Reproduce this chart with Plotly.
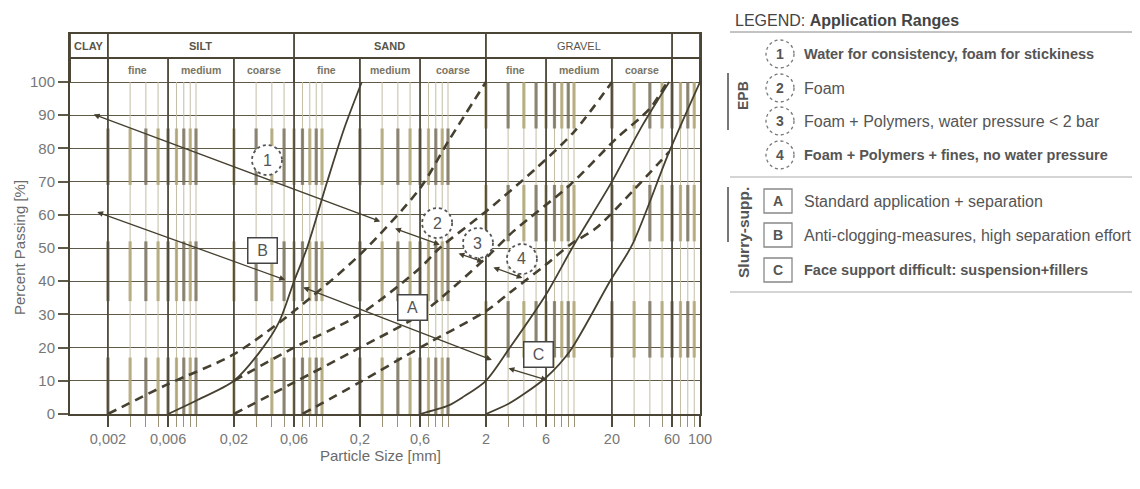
import math
import plotly.graph_objects as go

# ---------------- data ----------------
x_tickvals = [0.002, 0.006, 0.02, 0.06, 0.2, 0.6, 2, 6, 20, 60, 100]
x_ticktext = ["0,002", "0,006", "0,02", "0,06", "0,2", "0,6", "2", "6", "20", "60", "100"]
y_tickvals = [0, 10, 20, 30, 40, 50, 60, 70, 80, 90, 100]

main_band_names = ["CLAY", "SILT", "SAND", "GRAVEL", ""]
main_band_edges = [0.001, 0.002, 0.06, 2, 60, 100]
sub_band_names = ["", "fine", "medium", "coarse", "fine", "medium", "coarse",
                  "fine", "medium", "coarse", ""]
sub_band_edges = [0.001, 0.002, 0.006, 0.02, 0.06, 0.2, 0.6, 2, 6, 20, 60, 100]

major_lines = [0.002, 0.006, 0.02, 0.06, 0.2, 0.6, 2, 6, 20, 60]
sieve_lines = [0.003, 0.004, 0.005, 0.007, 0.008, 0.009, 0.01,
               0.03, 0.04, 0.05, 0.07, 0.08, 0.09, 0.1,
               0.3, 0.4, 0.5, 0.7, 0.8, 0.9, 1,
               3, 4, 5, 7, 8, 9, 10,
               30, 40, 50, 70, 80, 90]
band_ranges_fine = [[0, 17], [34, 52], [69, 86]]
band_ranges_coarse = [[17, 34], [52, 69], [86, 100]]

# solid grading curves
s1_x = [0.006, 0.01, 0.02, 0.034, 0.046, 0.06, 0.076, 0.11, 0.15, 0.207]
s1_y = [0, 4, 10, 20, 28, 40, 50, 70, 86, 100]
s2_x = [0.6, 1, 1.3, 2, 3.1, 6, 10, 20, 35, 57]
s2_y = [0, 2.5, 5, 10, 20, 36, 51, 70, 87, 100]
s3_x = [2, 3, 4, 6, 9.3, 19.3, 29, 57, 100]
s3_y = [0, 3, 6, 11, 19, 40, 51, 79, 100]

# dashed boundary curves
d1_x = [0.002, 0.006, 0.02, 0.06, 0.2, 0.6, 1, 2]
d1_y = [0, 9, 18, 31, 48, 68, 82, 100]
d2_x = [0.02, 0.06, 0.2, 0.6, 0.86, 2, 5, 10, 20]
d2_y = [10, 20, 30, 44, 50, 61, 74, 85, 100]
d3_x = [0.02, 0.06, 0.2, 0.6, 2, 3.3, 9.3, 21.7, 40, 55]
d3_y = [0, 9.5, 20, 30, 47, 55, 69, 83, 92, 100]
d4_x = [0.07, 0.2, 0.6, 2, 3.2, 6, 9.3, 15, 29, 57]
d4_y = [0, 9.6, 20, 31, 37, 45, 51, 56, 67, 79]

# range arrows: (x_start, y_start, x_end, y_end)
arrow_segments = [
    (0.0015, 90.4, 0.29, 58),
    (0.37, 56, 0.86, 51),
    (1.18, 48.5, 1.9, 45.8),
    (2.23, 44.3, 3.9, 41),
    (0.0016, 61, 0.051, 40.4),
    (0.069, 38.3, 2.23, 16.3),
    (2.94, 13.9, 6.1, 10.2),
]

zone_labels = ["1", "2", "3", "4"]
zone_x = [0.0366, 0.82, 1.73, 3.86]
zone_y = [76.5, 57.5, 51.5, 46.7]

box_labels = ["B", "A", "C"]
box_x = [0.034, 0.527, 5.18]
box_y = [49.4, 32.2, 17.8]

legend_title = "LEGEND: <b>Application Ranges</b>"
epb_labels = ["1", "2", "3", "4"]
epb_texts = ["<b>Water for consistency, foam for stickiness</b>",
             "Foam",
             "Foam + Polymers, water pressure < 2 bar",
             "<b>Foam + Polymers + fines, no water pressure</b>"]
slurry_labels = ["A", "B", "C"]
slurry_texts = ["Standard application + separation",
                "Anti-clogging-measures, high separation effort",
                "<b>Face support difficult: suspension+fillers</b>"]

# ---------------- layout helpers ----------------
# the page body adds an 8px offset; the figure is sized so the plot area lands
# at screen x 70..700, y 34..414
OFF = 8
W, H = 1140 - OFF, 489 - OFF
PL, PT, PW, PH = 70, 34, 630, 380          # plot area in screen pixels
L, T = PL - OFF, PT - OFF
R, B = W - L - PW, H - T - PH
Y_TOP = 114.46
Y_MID = 107.23
PX_PER_DEC = PW / 5.0
PX_PER_PCT = PH / Y_TOP
FONT = "Liberation Sans, Arial, sans-serif"
INK = "#45402f"


def px(xs):
    return (xs - PL) / PW


def py(ys):
    return (PT + PH - ys) / PH


def lg(v):
    return math.log10(v)


fig = go.Figure()


def vseg_trace(xs, ranges_for, color, width):
    xx, yy = [], []
    for xv in xs:
        for lo, hi in ranges_for(xv):
            xx += [xv, xv, None]
            yy += [lo, hi, None]
    fig.add_trace(go.Scatter(x=xx, y=yy, mode="lines",
                             line=dict(color=color, width=width),
                             hoverinfo="skip", showlegend=False))


all_vlines = sorted(sieve_lines + major_lines)
vseg_trace(sieve_lines, lambda v: [(0, 100)], "#c4bea4", 1)


def bands(v):
    return band_ranges_fine if v < 1.99 else band_ranges_coarse


dark_set = [v for i, v in enumerate(all_vlines) if i % 2 == 0]
olive_set = [v for i, v in enumerate(all_vlines) if i % 2 == 1]
vseg_trace(olive_set, bands, "rgba(170,158,105,0.75)", 3.2)
vseg_trace(dark_set, bands, "rgba(110,102,80,0.75)", 3.2)
vseg_trace(major_lines, lambda v: [(0, 100)], "#4f4a3a", 1.8)

# header grid
hx, hy = [], []
for e in main_band_edges:
    hx += [e, e, None]
    hy += [100, Y_TOP, None]
for e in sub_band_edges:
    hx += [e, e, None]
    hy += [100, Y_MID, None]
hx += [main_band_edges[0], main_band_edges[-1], None]
hy += [Y_MID, Y_MID, None]
fig.add_trace(go.Scatter(x=hx, y=hy, mode="lines",
                         line=dict(color="#4a4535", width=1.8),
                         hoverinfo="skip", showlegend=False))

for i, name in enumerate(main_band_names):
    if not name:
        continue
    xc = math.sqrt(main_band_edges[i] * main_band_edges[i + 1])
    bold = name != "GRAVEL"
    fig.add_annotation(x=lg(xc), y=(Y_MID + Y_TOP) / 2, xref="x", yref="y",
                       text=f"<b>{name}</b>" if bold else name, showarrow=False,
                       xanchor="center", yanchor="middle",
                       font=dict(family=FONT, size=11, color="#5a5548"))
for i, name in enumerate(sub_band_names):
    if not name:
        continue
    xc = math.sqrt(sub_band_edges[i] * sub_band_edges[i + 1])
    fig.add_annotation(x=lg(xc), y=(100 + Y_MID) / 2, xref="x", yref="y",
                       text=f"<b>{name}</b>", showarrow=False,
                       xanchor="center", yanchor="middle",
                       font=dict(family=FONT, size=10.5, color="#7a7563"))

# curves
for cx, cy in [(s1_x, s1_y), (s2_x, s2_y), (s3_x, s3_y)]:
    fig.add_trace(go.Scatter(x=cx, y=cy, mode="lines",
                             line=dict(color=INK, width=1.8, shape="spline", smoothing=0.8),
                             hoverinfo="skip", showlegend=False))
for cx, cy in [(d1_x, d1_y), (d2_x, d2_y), (d3_x, d3_y), (d4_x, d4_y)]:
    fig.add_trace(go.Scatter(x=cx, y=cy, mode="lines",
                             line=dict(color=INK, width=2.6, dash="9px,6px",
                                       shape="spline", smoothing=0.8),
                             hoverinfo="skip", showlegend=False))

# arrows
for x0, y0, x1, y1 in arrow_segments:
    fig.add_annotation(x=lg(x1), y=y1, ax=lg(x0), ay=y0, xref="x", yref="y",
                       axref="x", ayref="y", text="", showarrow=True,
                       arrowhead=2, arrowsize=0.9, arrowwidth=1.3,
                       arrowside="end+start", arrowcolor=INK,
                       standoff=0, startstandoff=0)

# zone circles (radius 15 px expressed in axis units)
RC = 15
fx = 10 ** (RC / PX_PER_DEC)
dy = RC / PX_PER_PCT
for lab, xv, yv in zip(zone_labels, zone_x, zone_y):
    fig.add_shape(type="circle", xref="x", yref="y",
                  x0=xv / fx, x1=xv * fx, y0=yv - dy, y1=yv + dy,
                  line=dict(color="#555", width=1.8, dash="dot"),
                  fillcolor="white", layer="above")
    fig.add_annotation(x=lg(xv), y=yv, xref="x", yref="y", text=lab,
                       showarrow=False, xanchor="center", yanchor="middle",
                       font=dict(family=FONT, size=16, color="#555"))

# boxes
for lab, xv, yv in zip(box_labels, box_x, box_y):
    fig.add_annotation(x=lg(xv), y=yv, xref="x", yref="y", text=lab,
                       showarrow=False, width=26, height=22, borderpad=1,
                       xanchor="center", yanchor="middle",
                       bordercolor="#444", borderwidth=1.5, bgcolor="white",
                       font=dict(family=FONT, size=16, color="#555"))

# axis titles
fig.add_annotation(x=px(380), y=py(455), xref="paper", yref="paper",
                   text="Particle Size [mm]", showarrow=False,
                   xanchor="center", yanchor="middle",
                   font=dict(family=FONT, size=15, color="#6a6a6a"))
fig.add_annotation(x=px(19), y=py(248), xref="paper", yref="paper",
                   text="Percent Passing [%]", showarrow=False, textangle=-90,
                   xanchor="center", yanchor="middle",
                   font=dict(family=FONT, size=15, color="#6a6a6a"))

# ---------------- legend block ----------------
fig.add_annotation(x=px(733), y=py(20), xref="paper", yref="paper",
                   text=legend_title, showarrow=False, xanchor="left", yanchor="middle",
                   font=dict(family=FONT, size=16, color="#444"))
for yl, col in [(32, "#888"), (177, "#aaa"), (292, "#aaa")]:
    fig.add_shape(type="line", xref="paper", yref="paper",
                  x0=px(730), x1=px(1140), y0=py(yl), y1=py(yl),
                  line=dict(color=col, width=1))
for y0, y1 in [(73, 130), (187, 242)]:
    fig.add_shape(type="line", xref="paper", yref="paper",
                  x0=px(728), x1=px(728), y0=py(y0), y1=py(y1),
                  line=dict(color="#777", width=2))
fig.add_annotation(x=px(743), y=py(96), xref="paper", yref="paper",
                   text="<b>EPB</b>", showarrow=False, textangle=-90,
                   xanchor="center", yanchor="middle",
                   font=dict(family=FONT, size=14, color="#555"))
fig.add_annotation(x=px(743), y=py(233), xref="paper", yref="paper",
                   text="<b>Slurry-supp.</b>", showarrow=False, textangle=-90,
                   xanchor="center", yanchor="middle",
                   font=dict(family=FONT, size=15.5, color="#555"))

epb_ypix = [54, 88, 121, 155]
for lab, txt, yp in zip(epb_labels, epb_texts, epb_ypix):
    fig.add_shape(type="circle", xref="paper", yref="paper",
                  x0=px(766), x1=px(794), y0=py(yp + 14), y1=py(yp - 14),
                  line=dict(color="#777", width=1.3, dash="dot"))
    fig.add_annotation(x=px(780), y=py(yp), xref="paper", yref="paper",
                       text=f"<b>{lab}</b>", showarrow=False,
                       xanchor="center", yanchor="middle",
                       font=dict(family=FONT, size=14, color="#555"))
    fig.add_annotation(x=px(802), y=py(yp), xref="paper", yref="paper",
                       text=txt, showarrow=False, xanchor="left", yanchor="middle",
                       font=dict(family=FONT, size=14.5 if "<b>" in txt else 16,
                                 color="#555"))

slurry_ypix = [201, 235, 270]
for lab, txt, yp in zip(slurry_labels, slurry_texts, slurry_ypix):
    fig.add_shape(type="rect", xref="paper", yref="paper",
                  x0=px(764), x1=px(792), y0=py(yp + 12), y1=py(yp - 12),
                  line=dict(color="#888", width=1.3))
    fig.add_annotation(x=px(778), y=py(yp), xref="paper", yref="paper",
                       text=f"<b>{lab}</b>", showarrow=False,
                       xanchor="center", yanchor="middle",
                       font=dict(family=FONT, size=14, color="#555"))
    fig.add_annotation(x=px(802), y=py(yp), xref="paper", yref="paper",
                       text=txt, showarrow=False, xanchor="left", yanchor="middle",
                       font=dict(family=FONT, size=14.5 if "<b>" in txt else 16,
                                 color="#555"))

fig.update_layout(
    width=W, height=H,
    margin=dict(l=L, r=R, t=T, b=B, autoexpand=False),
    paper_bgcolor="white", plot_bgcolor="white",
    showlegend=False, hovermode=False,
    font=dict(family=FONT),
    xaxis=dict(type="log", range=[-3, 2], tickmode="array",
               tickvals=x_tickvals, ticktext=x_ticktext,
               ticks="outside", ticklen=11, tickwidth=2, tickcolor="#4f4a3a",
               tickfont=dict(family=FONT, size=14.5, color="#777"),
               showgrid=False, zeroline=False,
               showline=True, mirror=True, linecolor="#4a4535", linewidth=2,
               minor=dict(tickmode="array", tickvals=sieve_lines, ticks="outside",
                          ticklen=11, tickwidth=1, tickcolor="#9a9378", showgrid=False)),
    yaxis=dict(range=[0, Y_TOP], tickmode="array", tickvals=y_tickvals,
               ticks="outside", ticklen=10, tickwidth=1.5, tickcolor="#5f5a48",
               tickfont=dict(family=FONT, size=15, color="#777"),
               showgrid=True, gridcolor="#5f5a48", gridwidth=1.4, zeroline=False,
               showline=True, mirror=True, linecolor="#4a4535", linewidth=2),
)

fig.write_html("out.html")
